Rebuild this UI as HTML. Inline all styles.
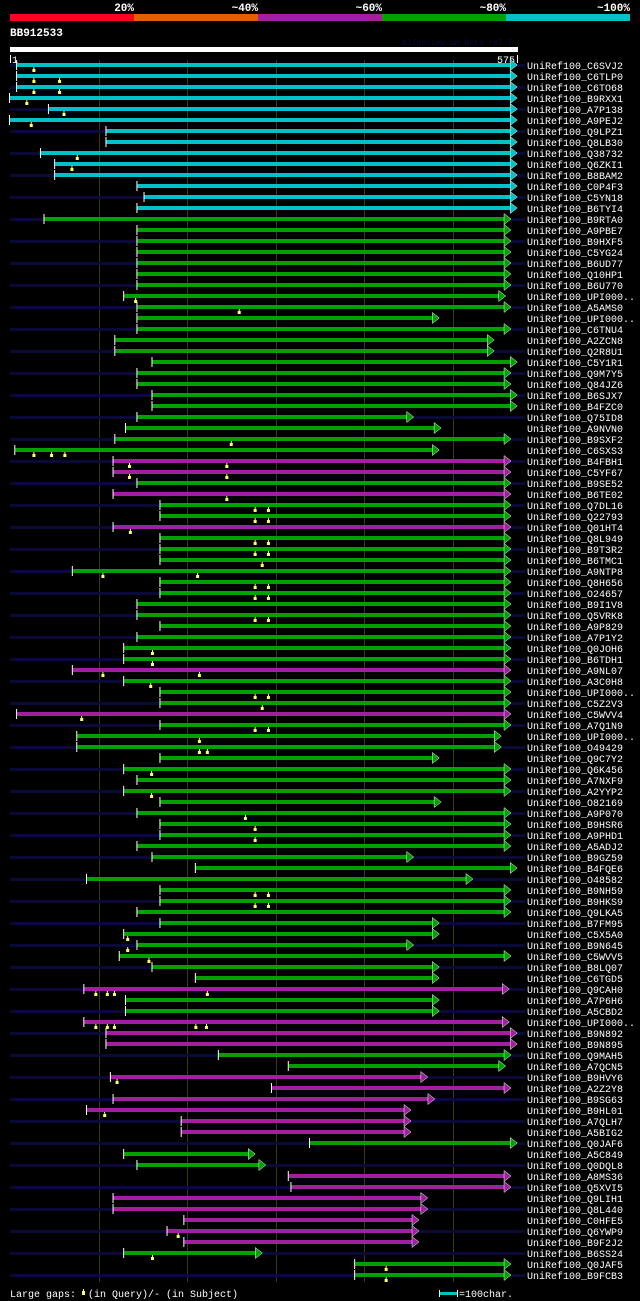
<!DOCTYPE html>
<html><head><meta charset="utf-8">
<style>
body{margin:0;background:#000;width:640px;height:1301px;overflow:hidden}
svg{display:block}
text{font-family:"Liberation Mono","DejaVu Sans Mono",monospace}
</style></head>
<body>
<svg id="chart" width="640" height="1301" viewBox="0 0 640 1301" xmlns="http://www.w3.org/2000/svg">
<g>
<rect x="10" y="14" width="124" height="7" fill="#ff0022"/>
<rect x="134" y="14" width="124" height="7" fill="#e06000"/>
<rect x="258" y="14" width="124" height="7" fill="#a020a0"/>
<rect x="382" y="14" width="124" height="7" fill="#00a000"/>
<rect x="506" y="14" width="124" height="7" fill="#00c0c8"/>
</g>
<g font-size="11" font-weight="bold" fill="#fff" text-anchor="end">
<text x="134" y="11">20%</text><text x="258" y="11">~40%</text><text x="382" y="11">~60%</text><text x="506" y="11">~80%</text><text x="630" y="11">~100%</text>
</g>
<text x="10" y="36" font-size="11" font-weight="bold" fill="#fff">BB912533</text>
<text x="402" y="45" font-size="8" fill="#0a0a40">AlignView.pm Beta rel.7</text>
<rect x="10" y="47" width="508" height="5" fill="#fff"/>
<rect x="10" y="55" width="1" height="8" fill="#fff"/>
<text x="12" y="63" font-size="10" fill="#fff">1</text>
<rect x="517" y="55" width="1" height="8" fill="#fff"/>
<text x="515" y="63" font-size="10" fill="#fff" text-anchor="end">575</text>
<g id="grid"></g>
<g id="rows"></g>
<text x="10" y="1297" font-size="10" fill="#fff">Large gaps:</text>
<text x="88" y="1297" font-size="10" fill="#fff">(in Query)/- (in Subject)</text>
<rect x="82" y="1291" width="3" height="4" fill="#ffff60"/><rect x="83" y="1289" width="1" height="2" fill="#ffff60"/>
<rect x="440" y="1292" width="17" height="3" fill="#00c0c8"/>
<rect x="439" y="1290" width="1" height="7" fill="#fff"/><rect x="457" y="1290" width="1" height="7" fill="#fff"/>
<text x="459" y="1297" font-size="10" fill="#fff">=100char.</text>
</svg>
<script>
const queryLen = 575;
const names = ["C6SVJ2","C6TLP0","C6TO68","B9RXX1","A7P138","A9PEJ2","Q9LPZ1","Q8LB30","Q38732","Q6ZKI1","B8BAM2","C0P4F3","C5YN18","B6TYI4","B9RTA0","A9PBE7","B9HXF5","C5YG24","B6UD77","Q10HP1","B6U770","UPI000..","A5AMS0","UPI000..","C6TNU4","A2ZCN8","Q2R8U1","C5Y1R1","Q9M7Y5","Q84JZ6","B6SJX7","B4FZC0","Q75ID8","A9NVN0","B9SXF2","C6SXS3","B4FBH1","C5YF67","B9SE52","B6TE02","Q7DL16","Q22793","Q01HT4","Q8L949","B9T3R2","B6TMC1","A9NTP8","Q8H656","O24657","B9I1V8","Q5VRK8","A9P829","A7P1Y2","Q0JOH6","B6TDH1","A9NL07","A3C0H8","UPI000..","C5Z2V3","C5WVV4","A7Q1N9","UPI000..","O49429","Q9C7Y2","Q6K456","A7NXF9","A2YYP2","O82169","A9P070","B9HSR6","A9PHD1","A5ADJ2","B9GZ59","B4FQE6","O48582","B9NH59","B9HKS9","Q9LKA5","B7FM95","C5X5A0","B9N645","C5WVV5","B8LQ07","C6TGD5","Q9CAH0","A7P6H6","A5CBD2","UPI000..","B9N892","B9N895","Q9MAH5","A7QCN5","B9HVY6","A2Z2Y8","B9SG63","B9HL01","A7QLH7","A5BIG2","Q0JAF6","A5C849","Q0DQL8","A8MS36","Q5XVI5","Q9LIH1","Q8L440","C0HFE5","Q6YWP9","B9F2J2","B6SS24","Q0JAF5","B9FCB3"];
const identity = "cccccccccccccc"+"gggggggggggggggggggggg"+"mmgmggmggggggggggggmgggmg"+"gggggggggggggggggggggggmg"+"gmmmggmmmmmmgggmmmmmmmggg";
const starts = [9,9,9,1,45,1,110,110,36,52,52,145,153,145,40,145,145,145,145,145,145,130,145,145,145,120,120,162,145,145,162,162,145,132,120,7,118,118,145,118,171,171,118,171,171,171,72,171,171,145,145,171,145,130,130,72,130,171,171,9,171,77,77,171,130,145,130,171,145,171,171,145,162,211,88,171,171,145,171,130,145,125,162,211,85,132,132,85,110,110,237,316,115,297,118,88,195,195,340,130,145,316,319,118,118,198,179,198,130,391,391];
const ends = [573,573,573,573,573,573,573,573,573,573,573,573,573,573,566,566,566,566,566,566,566,560,566,485,566,547,547,573,566,566,573,573,456,487,566,485,566,566,566,566,566,566,566,566,566,566,566,566,566,566,566,566,566,566,566,566,566,566,566,566,566,555,555,485,566,566,566,487,566,566,566,566,456,573,523,566,566,566,485,485,456,566,485,485,564,485,485,564,573,573,566,560,472,566,480,453,453,453,573,277,289,566,566,472,472,462,462,462,285,566,566];
const gaps = [[28],[28,57],[28,57],[20],[62],[25],[],[],[77],[71],[],[],[],[],[],[],[],[],[],[],[],[143],[260],[],[],[],[],[],[],[],[],[],[],[],[251],[28,48,63],[136,246],[136,246],[],[246],[278,293],[278,293],[137],[278,293],[278,293],[286],[106,213],[278,293],[278,293],[],[278,293],[],[],[162],[162],[106,215],[160],[278,293],[286],[82],[278,293],[215],[215,224],[],[161],[],[161],[],[267],[278],[278],[],[],[],[],[278,293],[278,293],[],[],[134],[134],[158],[],[],[98,111,119,224],[],[],[98,111,119,211,223],[],[],[],[],[122],[],[],[108],[],[],[],[],[],[],[],[],[],[],[191],[],[162],[426],[426]];
const colors = {c:"#00c0c8",g:"#00a000",m:"#a020a0"};
const X0 = 10, X1 = 518;
function xScale(r){ return X0 + (r-1)/(queryLen-1)*(X1-X0); }
function yRow(i){ return 65 + i*11; }
const NS = "http://www.w3.org/2000/svg";
function mk(tag, attrs, parent){ const e=document.createElementNS(NS,tag); for(const k in attrs) e.setAttribute(k,attrs[k]); parent.appendChild(e); return e; }
const grid = document.getElementById('grid');
for (let t=100; t<queryLen; t+=100){
  const gl = mk('rect',{x:Math.round(xScale(t+1)),y:60,width:1,height:1222,fill:'#3a3a10'},grid);
  
  
}
const rows = document.getElementById('rows');
names.forEach((n,i)=>{
  const y = yRow(i);
  const g = mk('g',{},rows);
  
  
  if (i%2===0) mk('rect',{x:10,y:y-1,width:515,height:3,fill:'#0a0a38'},g);
  const col = colors[identity[i]];
  const xs = xScale(starts[i]), xe = xScale(ends[i]);
  const bar = mk('rect',{x:xs,y:y-2,width:xe-xs-4,height:4,fill:col},g);
  
  
  mk('polygon',{points:`${xe-6},${y-5.5} ${xe+1},${y} ${xe-6},${y+5.5}`,fill:col,stroke:'#e0ffe0','stroke-width':0.5},g);
  mk('rect',{x:xs-1,y:y-5,width:1,height:10,fill:'#fff'},g);
  gaps[i].forEach(r=>{
    const gx = xScale(r);
    const m = mk('rect',{x:gx-1.5,y:y+4,width:3,height:3,fill:'#ffff60'},g);
    
    
    mk('rect',{x:gx-0.5,y:y+2,width:1,height:2,fill:'#ffff60'},g);
  });
  const lbl = mk('text',{x:527,y:y+4,'font-size':10,fill:'#fff'},g);
  lbl.textContent = 'UniRef100_'+n;
  
  
});
</script>
</body></html>
